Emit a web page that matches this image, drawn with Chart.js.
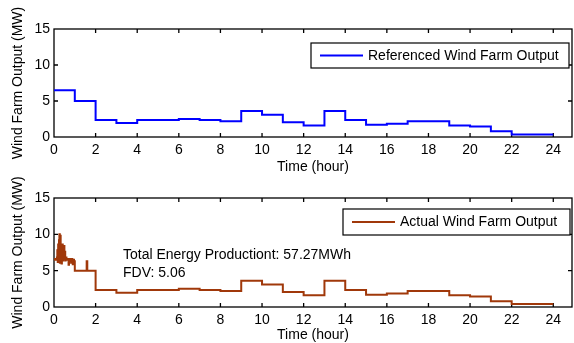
<!DOCTYPE html>
<html><head><meta charset="utf-8">
<script src="https://cdn.jsdelivr.net/npm/chart.js@4/dist/chart.umd.min.js"></script>
<style>
html,body{margin:0;padding:0;background:#fff;width:574px;height:343px;overflow:hidden}
#w{position:relative;width:574px;height:343px;background:#fff}
canvas{position:absolute;left:0}
#c1{top:0}
#c2{top:168px}
</style></head>
<body><div id="w"><canvas id="c1"></canvas><canvas id="c2"></canvas></div>
<script>
// ---- data ----
const hourTicks = [0,2,4,6,8,10,12,14,16,18,20,22,24];
const yTicks = [0,5,10,15];
const hourStarts = [0,1,2,3,4,5,6,7,8,9,10,11,12,13,14,15,16,17,18,19,20,21,22,23];
const referencedOutput = [6.5,5.0,2.35,1.95,2.35,2.35,2.5,2.35,2.2,3.6,3.1,2.05,1.6,3.6,2.35,1.7,1.85,2.2,2.2,1.6,1.45,0.8,0.35,0.35];
const actualHourly = [6.5,5.0,2.35,1.95,2.35,2.35,2.5,2.35,2.2,3.6,3.1,2.05,1.6,3.6,2.35,1.7,1.85,2.2,2.2,1.6,1.45,0.8,0.4,0.4];
// high-resolution actual output during the first two hours
const actualEarlyTimes = [0,0.05,0.1,0.14,0.16,0.18,0.2,0.22,0.24,0.26,0.28,0.3,0.32,0.34,0.36,0.38,0.4,0.42,0.44,0.46,0.48,0.5,0.52,0.54,0.56,0.6,0.64,0.68,0.7,0.72,0.76,0.8,0.82,0.84,0.88,0.9,0.92,0.96,1.0,1.57,1.6];
const actualEarlyValues = [6.5,6.6,6.5,6.8,7.8,6.2,8.6,6.4,9.2,10.0,6.1,9.8,7.0,8.4,6.0,7.6,8.6,6.4,8.2,6.6,8.4,6.8,7.6,6.4,6.8,6.6,6.5,6.6,5.8,6.5,6.6,6.4,6.1,6.6,6.2,5.9,6.5,6.3,5.0,6.3,5.0];
const endHour = 24;
const totalEnergyText = 'Total Energy Productiont: 57.27MWh';
const fdvText = 'FDV: 5.06';

// ---- build point lists ----
const refPoints = hourStarts.map((h,i)=>({x:h,y:referencedOutput[i]}));
refPoints.push({x:endHour,y:referencedOutput[referencedOutput.length-1]});
const actPoints = actualEarlyTimes.map((t,i)=>({x:t,y:actualEarlyValues[i]}));
hourStarts.forEach((h,i)=>{ if(h>=2) actPoints.push({x:h,y:actualHourly[i]}); });
actPoints.push({x:endHour,y:actualHourly[actualHourly.length-1]});

const FONT = "'Liberation Sans', Arial, sans-serif";
Chart.defaults.font.family = FONT;
Chart.defaults.font.size = 14;
Chart.defaults.color = '#000';

const framePlugin = {
  id:'frame',
  beforeDatasetsDraw(chart){
    const {ctx, chartArea:a, scales:{x,y}} = chart;
    ctx.save();
    ctx.strokeStyle = '#000';
    ctx.lineWidth = 1.3;
    ctx.strokeRect(a.left, a.top, a.right-a.left, a.bottom-a.top);
    const tl = 4;
    ctx.beginPath();
    hourTicks.forEach(v=>{
      if(v<=0) return;
      const px = x.getPixelForValue(v);
      ctx.moveTo(px,a.bottom); ctx.lineTo(px,a.bottom-tl);
      ctx.moveTo(px,a.top); ctx.lineTo(px,a.top+tl);
    });
    yTicks.forEach(v=>{
      if(v<=0||v>=15) return;
      const py = y.getPixelForValue(v);
      ctx.moveTo(a.left,py); ctx.lineTo(a.left+tl,py);
      ctx.moveTo(a.right,py); ctx.lineTo(a.right-tl,py);
    });
    ctx.stroke();
    ctx.restore();
  },
  afterDraw(chart){
    const o = chart.options.plugins.frame;
    const {ctx} = chart;
    ctx.save();
    const L = o.legend;
    ctx.fillStyle = '#fff';
    ctx.fillRect(L.x1,L.y1,L.x2-L.x1,L.y2-L.y1);
    ctx.strokeStyle = '#000';
    ctx.lineWidth = 1.2;
    ctx.strokeRect(L.x1,L.y1,L.x2-L.x1,L.y2-L.y1);
    const ds = chart.data.datasets[0];
    const cy = (L.y1+L.y2)/2;
    ctx.strokeStyle = ds.borderColor;
    ctx.lineWidth = 2;
    ctx.beginPath(); ctx.moveTo(L.x1+9,cy); ctx.lineTo(L.x1+52,cy); ctx.stroke();
    ctx.fillStyle = '#000';
    ctx.font = "14px " + FONT;
    ctx.textBaseline = 'middle';
    ctx.textAlign = 'left';
    ctx.fillText(ds.label, L.x1+57, cy+0.5);
    (o.notes||[]).forEach(n=>ctx.fillText(n.text,n.x,n.y));
    ctx.restore();
  }
};

function makeChart(id, h, padTop, areaBottom, titlePadBottom, points, color, label, legend, notes){
  const cv = document.getElementById(id);
  cv.width = 574; cv.height = h; cv.style.width='574px'; cv.style.height=h+'px';
  return new Chart(cv, {
    type:'line',
    data:{datasets:[{label, data:points, borderColor:color, borderWidth:2, pointRadius:0, stepped:'before', fill:false, tension:0, borderJoinStyle:'miter'}]},
    options:{
      responsive:false, animation:false, devicePixelRatio:1,
      layout:{padding:{top:padTop,right:2,left:0,bottom:0}},
      plugins:{legend:{display:false},tooltip:{enabled:false},frame:{legend,notes}},
      scales:{
        x:{type:'linear',min:0,max:24.9,
          afterBuildTicks:s=>{s.ticks = hourTicks.map(v=>({value:v}));},
          afterFit:s=>{s.height = h-areaBottom;},
          grid:{display:false,drawTicks:false},border:{display:false},
          ticks:{padding:5,maxRotation:0,autoSkip:false,color:'#000'},
          title:{display:true,text:'Time (hour)',color:'#000',padding:{top:0,bottom:titlePadBottom}}},
        y:{type:'linear',min:0,max:15,
          afterBuildTicks:s=>{s.ticks = yTicks.map(v=>({value:v}));},
          afterFit:s=>{s.width = 54;},
          grid:{display:false,drawTicks:false},border:{display:false},
          ticks:{padding:4,color:'#000'},
          title:{display:true,text:'Wind Farm Output (MW)',color:'#000',padding:{top:9.6,bottom:0}}}
      }
    },
    plugins:[framePlugin]
  });
}

// top panel: canvas 0..180, plot area y 29..137
makeChart('c1',180,29,137,4.6,refPoints,'#0000ff','Referenced Wind Farm Output',
  {x1:311,y1:43,x2:569,y2:68},[]);
// bottom panel: canvas 168..343, plot area y 198..307
makeChart('c2',175,30,139,-1,actPoints,'#a0380a','Actual Wind Farm Output',
  {x1:343,y1:41,x2:570,y2:67},
  [{text:totalEnergyText,x:123,y:87},{text:fdvText,x:123,y:105}]);
</script>
</body></html>
